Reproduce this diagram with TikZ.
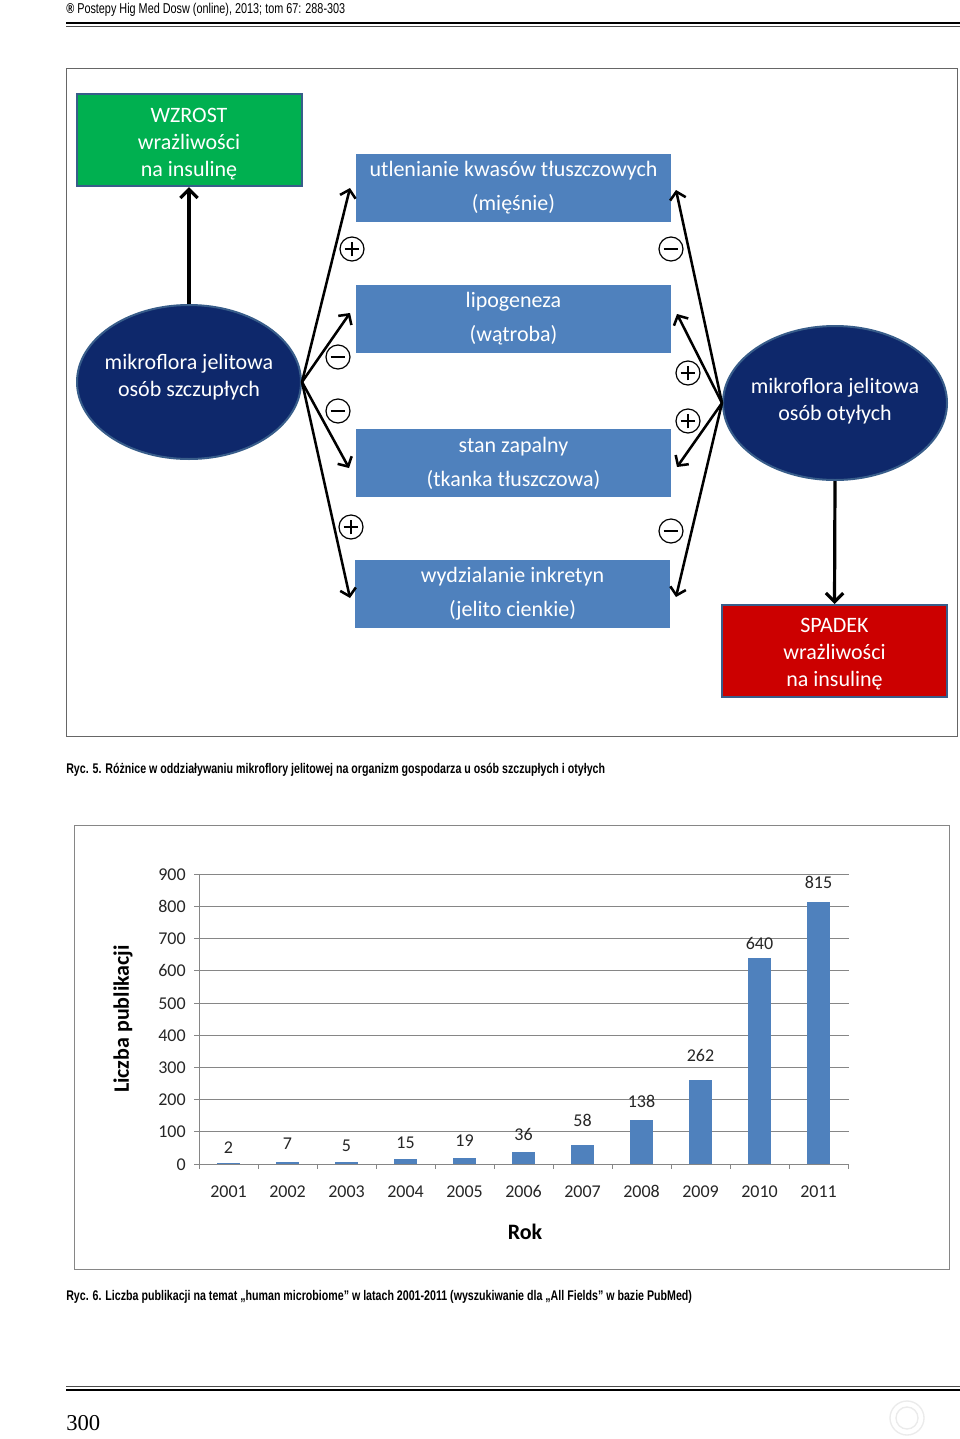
\documentclass[tikz,border=0pt]{standalone}
\usepackage{fontspec}
\usetikzlibrary{arrows.meta,shapes.geometric}
\setmainfont{Liberation Serif}
\newfontfamily\calib{Carlito}
\newfontfamily\condfam[FakeStretch=0.76]{Liberation Sans}
\definecolor{gboxgreen}{RGB}{0,176,80}
\definecolor{boxblue}{RGB}{79,129,189}
\definecolor{navyell}{RGB}{14,40,107}
\definecolor{edgeblue}{RGB}{56,93,138}
\definecolor{redboxc}{RGB}{204,0,0}
\definecolor{gridc}{RGB}{134,134,134}
\tikzset{
  bluebox/.style={rectangle, fill=boxblue, minimum width=236.25pt, minimum height=51pt, inner sep=0pt,
    text=white, align=center, font=\calib\fontsize{16.5}{25.5}\selectfont},
  colbox/.style={rectangle, draw=edgeblue, line width=1.5pt, minimum width=168.75pt, minimum height=69pt,
    inner sep=0pt},
  bigell/.style={ellipse, fill=navyell, draw=edgeblue, line width=1.5pt, minimum width=168pt,
    minimum height=115.5pt, inner sep=0pt},
  elltext/.style={text=white, align=center, font=\calib\fontsize{16.5}{20.25}\selectfont, inner sep=0pt},
  fan/.style={line width=1.9pt, -{Straight Barb[length=5.5pt,width=12pt]}},
  vert/.style={line width=2.4pt, -{Straight Barb[length=6.5pt,width=13pt]}},
  signc/.style={circle, draw=black, line width=0.9pt, minimum size=18pt, inner sep=0pt},
  plussign/.style={signc, path picture={\draw[line width=0.9pt]
     ([xshift=-5.5pt]path picture bounding box.center) -- ([xshift=5.5pt]path picture bounding box.center)
     ([yshift=-5.5pt]path picture bounding box.center) -- ([yshift=5.5pt]path picture bounding box.center);}},
  minussign/.style={signc, path picture={\draw[line width=0.9pt]
     ([xshift=-5.5pt]path picture bounding box.center) -- ([xshift=5.5pt]path picture bounding box.center);}},
  capt/.style={anchor=base west, inner sep=0pt, font=\condfam\bfseries\fontsize{10.5}{12}\selectfont},
  numlab/.style={inner sep=0pt, anchor=base, font=\calib\fontsize{13.5}{14}\selectfont, text=black!85},
  axlab/.style={inner sep=0pt, font=\calib\bfseries\fontsize{16.5}{18}\selectfont},
  gridl/.style={draw=gridc, line width=0.75pt},
}
\begin{document}
\begin{tikzpicture}[x=0.75pt,y=-0.75pt]
\useasboundingbox (0,0) rectangle (960,1439);
\fill[white] (0,0) rectangle (960,1439);
% header
\node[anchor=base west, inner sep=0pt, font=\condfam\fontsize{10.7}{12}\selectfont] (hdr) at (66,13)
  {\textbf{®} Postepy Hig Med Dosw (online), 2013; tom 67: 288-303};
\draw[line width=1.6pt] (66,23) -- (960,23);
\draw[line width=0.7pt, black!70] (66,26.3) -- (960,26.3);
% figure 5 frame
\draw[black!60, line width=0.75pt] (66,68) rectangle (957,736);
% boxes
\node[colbox, fill=gboxgreen, label={[elltext, yshift=-3pt]center:{WZROST\\wrażliwości\\na insulinę}}] (G) at (189,140) {};
\node[bluebox] (B1) at (513.5,187.5) {utlenianie kwasów tłuszczowych\\(mięśnie)};
\node[bluebox] (B2) at (513.5,318.5) {lipogeneza\\(wątroba)};
\node[bluebox] (B3) at (513.5,463) {stan zapalny\\(tkanka tłuszczowa)};
\node[bluebox] (B4) at (512.5,593.5) {wydzialanie inkretyn\\(jelito cienkie)};
\node[bigell, label={[elltext, yshift=4pt]center:{mikroflora jelitowa\\osób szczupłych}}] (L) at (189,382) {};
\node[bigell, label={[elltext, yshift=1.5pt]center:{mikroflora jelitowa\\osób otyłych}}] (R) at (835,403) {};
\node[colbox, fill=redboxc, label={[elltext, yshift=-2.2pt]center:{SPADEK\\wrażliwości\\na insulinę}}] (S) at (834.5,651) {};
% arrow ends
\coordinate (tl1) at (350,188);
\coordinate (tl2) at (350,313);
\coordinate (tl3) at (349,468);
\coordinate (tl4) at (350,598);
\coordinate (tr1) at (676,190);
\coordinate (tr2) at (677,314);
\coordinate (tr3) at (677,467);
\coordinate (tr4) at (676,597);
\draw[vert] (L.north) -- (G.south);
\draw[vert] (R.south) -- (S.north);
\foreach \t in {tl1,tl2,tl3,tl4} \draw[fan] (L.east) -- (\t);
\foreach \t in {tr1,tr2,tr3,tr4} \draw[fan] (R.west) -- (\t);
% signs
\node[plussign] (sl1) at (352,249) {};
\node[minussign] (sl2) at (338,357) {};
\node[minussign] (sl3) at (338,411) {};
\node[plussign] (sl4) at (351,527) {};
\node[minussign] (sr1) at (671,249) {};
\node[plussign] (sr2) at (688,373) {};
\node[plussign] (sr3) at (688,421) {};
\node[minussign] (sr4) at (671,531) {};
% caption 5
\node[capt] (c5) at (66,773) {Ryc. 5. Różnice w oddziaływaniu mikroflory jelitowej na organizm gospodarza u osób szczupłych i otyłych};
% chart frame
\draw[gridc, line width=0.75pt] (74,825) rectangle (949,1269);
\foreach \v in {1,...,9} \draw[gridl] (199,{1164-32.2*\v}) -- (849,{1164-32.2*\v});
\foreach \v in {0,...,9} {
  \pgfmathtruncatemacro\lab{100*\v}
  \draw[gridl] (194,{1164-32.2*\v}) -- (199,{1164-32.2*\v});
  \node[numlab, anchor=base east] (yl\v) at (186,{1170-32.2*\v}) {\lab};
}
\draw[gridl] (199,874) -- (199,1164) -- (849,1164);
\foreach \k in {0,...,11} \draw[gridl] ({199+59*\k},1164) -- ({199+59*\k},1169);
\foreach \val/\yl [count=\i from 0] in {2/1147,7/1143,5/1145,15/1142,19/1140,36/1134,58/1120,138/1101,262/1055,640/943,815/882} {
  \pgfmathsetmacro\cx{228.5+59*\i}
  \pgfmathtruncatemacro\yr{2001+\i}
  \fill[boxblue] (\cx-11.5,1164) rectangle (\cx+11.5,{1164-0.322*\val});
  \node[numlab] (v\i) at (\cx,\yl+6) {\val};
  \node[numlab] (yr\i) at (\cx,1197) {\yr};
}
\node[axlab] (rok) at (525,1232) {Rok};
\node[axlab, rotate=90] (lp) at (123,1019) {Liczba publikacji};
% caption 6
\node[capt] (c6) at (66,1300) {Ryc. 6. Liczba publikacji na temat „human microbiome” w latach 2001-2011 (wyszukiwanie dla „All Fields” w bazie PubMed)};
% footer
\draw[line width=0.7pt, black!70] (66,1386) -- (960,1386);
\draw[line width=2.2pt] (66,1390) -- (960,1390);
\node[anchor=base west, inner sep=0pt, font=\fontsize{17}{18}\selectfont] (pg) at (66,1430) {300};
\draw[black!8, line width=1pt] (907,1418) circle (17);
\draw[black!8, line width=1pt] (907,1418) circle (11);
\end{tikzpicture}
\end{document}
